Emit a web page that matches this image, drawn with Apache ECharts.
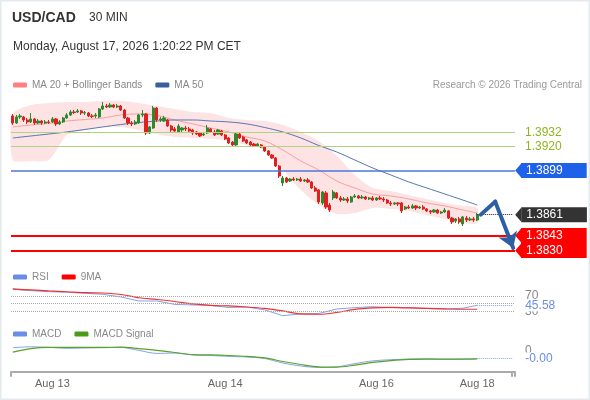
<!DOCTYPE html>
<head>
    <meta charset="utf-8">
    <title>USD/CAD 30 MIN</title>
    <style>
        html, body { margin: 0; padding: 0; background: #fff; }
        #chart { width: 590px; height: 400px; }
    </style>
</head>
<body>
    <div id="chart"></div>

    <script src="https://cdn.jsdelivr.net/npm/echarts@6/dist/echarts.min.js"></script>
    <script type="text/javascript">

// ---- data ----
var slots = 140;               // category slots on the time axis (candles + empty room on the right)
var tickIdx  = [11, 59, 101, 129];
var tickText = ['Aug 13', 'Aug 14', 'Aug 16', 'Aug 18'];

var opens = [1.39461,1.39400,1.39452,1.39452,1.39426,1.39409,1.39435,1.39400,1.39417,1.39400,
 1.39409,1.39409,1.39435,1.39392,1.39409,1.39443,1.39469,1.39495,1.39495,1.39504,
 1.39486,1.39486,1.39461,1.39461,1.39452,1.39521,1.39547,1.39538,1.39555,1.39538,
 1.39547,1.39512,1.39443,1.39400,1.39392,1.39400,1.39469,1.39478,1.39314,1.39357,
 1.39529,1.39426,1.39417,1.39426,1.39374,1.39349,1.39323,1.39340,1.39357,1.39349,
 1.39340,1.39323,1.39314,1.39297,1.39314,1.39349,1.39323,1.39305,1.39331,1.39297,
 1.39271,1.39236,1.39211,1.39305,1.39279,1.39254,1.39236,1.39219,1.39202,1.39211,
 1.39193,1.39159,1.39124,1.39098,1.39029,1.38883,1.38926,1.38900,1.38917,1.38909,
 1.38917,1.38900,1.38909,1.38891,1.38840,1.38823,1.38711,1.38797,1.38693,1.38754,
 1.38797,1.38754,1.38736,1.38745,1.38719,1.38762,1.38771,1.38754,1.38762,1.38745,
 1.38754,1.38736,1.38754,1.38745,1.38736,1.38711,1.38702,1.38711,1.38711,1.38659,
 1.38676,1.38667,1.38685,1.38667,1.38676,1.38659,1.38642,1.38633,1.38650,1.38624,
 1.38633,1.38642,1.38581,1.38555,1.38573,1.38530,1.38581,1.38564,1.38573,1.38564];

var closes = [1.39400,1.39452,1.39461,1.39426,1.39409,1.39435,1.39400,1.39417,1.39400,1.39409,
 1.39405,1.39435,1.39392,1.39409,1.39443,1.39469,1.39495,1.39490,1.39504,1.39486,
 1.39490,1.39461,1.39457,1.39469,1.39521,1.39547,1.39538,1.39555,1.39538,1.39547,
 1.39512,1.39443,1.39400,1.39392,1.39409,1.39469,1.39478,1.39314,1.39366,1.39529,
 1.39426,1.39435,1.39443,1.39374,1.39340,1.39331,1.39374,1.39357,1.39349,1.39331,
 1.39314,1.39305,1.39288,1.39305,1.39357,1.39323,1.39297,1.39340,1.39297,1.39262,
 1.39228,1.39211,1.39305,1.39271,1.39245,1.39228,1.39211,1.39202,1.39219,1.39193,
 1.39159,1.39124,1.39098,1.39029,1.38943,1.38926,1.38891,1.38917,1.38909,1.38917,
 1.38900,1.38909,1.38891,1.38840,1.38814,1.38719,1.38805,1.38676,1.38650,1.38805,
 1.38754,1.38736,1.38745,1.38728,1.38762,1.38771,1.38754,1.38762,1.38745,1.38754,
 1.38736,1.38754,1.38745,1.38736,1.38711,1.38702,1.38711,1.38702,1.38642,1.38676,
 1.38667,1.38685,1.38667,1.38676,1.38659,1.38642,1.38633,1.38650,1.38624,1.38633,
 1.38650,1.38581,1.38547,1.38573,1.38547,1.38590,1.38564,1.38573,1.38564,1.38610];

var lows = [1.39383,1.39392,1.39435,1.39409,1.39392,1.39400,1.39383,1.39392,1.39383,1.39392,
 1.39392,1.39400,1.39374,1.39383,1.39400,1.39435,1.39461,1.39478,1.39486,1.39469,
 1.39469,1.39452,1.39443,1.39443,1.39443,1.39512,1.39529,1.39529,1.39529,1.39529,
 1.39504,1.39435,1.39383,1.39374,1.39383,1.39392,1.39452,1.39297,1.39305,1.39349,
 1.39409,1.39409,1.39409,1.39366,1.39323,1.39323,1.39314,1.39323,1.39331,1.39323,
 1.39297,1.39297,1.39279,1.39288,1.39305,1.39314,1.39288,1.39297,1.39288,1.39254,
 1.39219,1.39202,1.39202,1.39262,1.39236,1.39219,1.39202,1.39193,1.39193,1.39185,
 1.39150,1.39116,1.39090,1.39021,1.38926,1.38857,1.38883,1.38891,1.38900,1.38900,
 1.38891,1.38891,1.38883,1.38831,1.38805,1.38702,1.38693,1.38659,1.38633,1.38736,
 1.38745,1.38719,1.38728,1.38711,1.38711,1.38754,1.38745,1.38745,1.38736,1.38736,
 1.38728,1.38728,1.38736,1.38719,1.38702,1.38685,1.38693,1.38685,1.38624,1.38650,
 1.38659,1.38659,1.38650,1.38659,1.38650,1.38633,1.38616,1.38624,1.38616,1.38616,
 1.38624,1.38573,1.38530,1.38538,1.38530,1.38512,1.38547,1.38555,1.38547,1.38555];

var highs = [1.39478,1.39469,1.39478,1.39461,1.39443,1.39486,1.39443,1.39435,1.39426,1.39426,
 1.39426,1.39452,1.39443,1.39426,1.39452,1.39486,1.39512,1.39512,1.39521,1.39512,
 1.39504,1.39495,1.39478,1.39486,1.39529,1.39581,1.39564,1.39573,1.39564,1.39564,
 1.39555,1.39521,1.39452,1.39417,1.39426,1.39478,1.39512,1.39486,1.39374,1.39547,
 1.39538,1.39452,1.39461,1.39435,1.39383,1.39366,1.39392,1.39366,1.39374,1.39366,
 1.39349,1.39331,1.39323,1.39314,1.39383,1.39357,1.39340,1.39349,1.39340,1.39305,
 1.39279,1.39245,1.39314,1.39314,1.39288,1.39262,1.39245,1.39228,1.39228,1.39219,
 1.39202,1.39167,1.39133,1.39107,1.39038,1.38943,1.38935,1.38926,1.38935,1.38926,
 1.38935,1.38917,1.38926,1.38900,1.38857,1.38831,1.38814,1.38814,1.38711,1.38823,
 1.38805,1.38771,1.38762,1.38762,1.38771,1.38788,1.38780,1.38780,1.38771,1.38762,
 1.38771,1.38762,1.38771,1.38762,1.38745,1.38728,1.38719,1.38719,1.38719,1.38685,
 1.38693,1.38702,1.38693,1.38685,1.38693,1.38667,1.38650,1.38659,1.38659,1.38642,
 1.38667,1.38650,1.38590,1.38581,1.38590,1.38599,1.38599,1.38590,1.38590,1.38624];

// indicator readings, taken every 5 candles
var indIdx  = [0,5,10,15,20,25,30,35,40,45,50,55,60,65,70,75,80,85,90,95,100,105,110,115,120,125,129];
var ma20    = [1.39366,1.39383,1.39396,1.39417,1.39430,1.39443,1.39469,1.39478,1.39465,1.39426,1.39392,1.39357,1.39323,1.39279,1.39245,1.39167,1.39073,1.38995,1.38900,1.38840,1.38788,1.38771,1.38745,1.38711,1.38685,1.38650,1.38624];
var ma50    = [1.39271,1.39288,1.39305,1.39323,1.39344,1.39366,1.39387,1.39404,1.39417,1.39426,1.39426,1.39417,1.39409,1.39392,1.39361,1.39323,1.39271,1.39206,1.39150,1.39081,1.39012,1.38952,1.38892,1.38840,1.38788,1.38736,1.38693];
var bbUpper = [1.39478,1.39555,1.39573,1.39581,1.39581,1.39590,1.39590,1.39573,1.39547,1.39521,1.39495,1.39486,1.39443,1.39426,1.39417,1.39383,1.39323,1.39245,1.39116,1.38952,1.38840,1.38814,1.38780,1.38745,1.38711,1.38685,1.38668];
var bbLower = [1.39081,1.39073,1.39081,1.39297,1.39340,1.39366,1.39366,1.39340,1.39305,1.39279,1.39271,1.39262,1.39245,1.39211,1.39167,1.38995,1.38823,1.38693,1.38616,1.38624,1.38668,1.38659,1.38642,1.38607,1.38573,1.38538,1.38538];

var rsi   = [87.5,83.9,81.2,79.7,77.1,74.4,67.4,56.9,56.9,47.8,46.5,45.2,39.9,41.2,33.4,18.5,22.9,24.2,36,39.4,42,39.4,39.4,37.3,36,37.8,45.58];
var rsiMa = [88.3,85.7,83.1,81,78.6,77.8,73.9,65.3,60.8,55.6,49.1,45.2,43.9,41.2,37.3,30.8,22.9,22.2,26.9,34.7,38.6,39.9,38.6,37.3,36,35.2,35.2];
var macd   = [0.00010,0.00013,0.00011,0.00008,0.00009,0.00010,0.00011,0.00001,-0.00009,-0.00008,-0.00014,-0.00016,-0.00019,-0.00021,-0.00026,-0.00041,-0.00051,-0.00056,-0.00054,-0.00043,-0.00034,-0.00030,-0.00028,-0.00027,-0.00029,-0.00028,-0.00026];
var signal = [-0.00005,0.00007,0.00011,0.00011,0.00011,0.00011,0.00012,0.00007,0.00001,-0.00006,-0.00013,-0.00014,-0.00016,-0.00019,-0.00024,-0.00036,-0.00046,-0.00054,-0.00055,-0.00048,-0.00039,-0.00033,-0.00029,-0.00028,-0.00028,-0.00028,-0.00027];

var resistances = [1.3932, 1.3920];
var pivot = 1.3899;
var supports = [1.3843, 1.3830];
var lastPrice = 1.3861;
var lastRsi = 45.58;
var lastMacd = -0.00026;
// forecast arrow: start, peak, target
var arrowIdx   = [130, 134, 139];
var arrowPrice = [1.3861, 1.38722, 1.38323];

// ---- build ----
var categories = [];
for (var i = 0; i < slots; i++) categories.push(String(i));

var candles = opens.map(function (o, i) { return [o, closes[i], lows[i], highs[i]]; });
function pairs(vals) { return indIdx.map(function (x, k) { return [x, vals[k]]; }); }
var lastI = opens.length - 1;
var endI = slots - 1;

var FONT = 'Arial, "Liberation Sans", sans-serif';

function tag(bg, dist) {
    return {
        show: true, position: 'end', distance: dist,
        color: '#fff', backgroundColor: bg, fontSize: 12, fontFamily: FONT,
        padding: [2, 24, 1, 5], lineHeight: 12
    };
}
function notch(idx, val, color) {
    return { coord: [idx, val], symbol: 'triangle', symbolRotate: 90,
             symbolSize: [14, 6], symbolOffset: [5, 0], itemStyle: { color: color } };
}

var myChart = echarts.init(document.getElementById('chart'), null, { renderer: 'canvas' });

var hiddenX = function (g) {
    return { type: 'category', gridIndex: g, data: categories, boundaryGap: true, show: false };
};
var legendText = { color: '#888', fontSize: 10, fontFamily: FONT };

var option = {
    animation: false,
    backgroundColor: '#fff',
    textStyle: { fontFamily: FONT },
    graphic: [{
        type: 'rect', silent: true,
        shape: { x: 0.5, y: 0.5, width: 589, height: 399 },
        style: { fill: 'none', stroke: '#e4e9ee', lineWidth: 2 }
    }],
    title: [
        { text: 'USD/CAD', left: 12, top: 11, padding: 0, textStyle: { fontSize: 14, fontWeight: 'bold', color: '#333', fontFamily: FONT } },
        { text: '30 MIN', left: 89, top: 12, padding: 0, textStyle: { fontSize: 12, fontWeight: 'normal', color: '#333', fontFamily: FONT } },
        { text: 'Monday, August 17, 2026 1:20:22 PM CET', left: 13, top: 41, padding: 0, textStyle: { fontSize: 12, fontWeight: 'normal', color: '#333', fontFamily: FONT } },
        { text: 'Research \u00a9 2026 Trading Central', right: 8, top: 80, padding: 0, textStyle: { fontSize: 10, fontWeight: 'normal', color: '#999', fontFamily: FONT } }
    ],
    legend: [
        { top: 80, left: 13, padding: 0, itemWidth: 14, itemHeight: 5, itemGap: 13, selectedMode: false, icon: 'roundRect',
          textStyle: legendText,
          data: [{ name: 'MA 20 + Bollinger Bands', itemStyle: { color: '#ff8080' } },
                 { name: 'MA 50', itemStyle: { color: '#3a5e9e' } }] },
        { top: 272, left: 13, padding: 0, itemWidth: 14, itemHeight: 5, itemGap: 13, selectedMode: false, icon: 'roundRect',
          textStyle: legendText,
          data: [{ name: 'RSI', itemStyle: { color: '#6a8ee6' } },
                 { name: '9MA', itemStyle: { color: '#ff0000' } }] },
        { top: 329, left: 13, padding: 0, itemWidth: 14, itemHeight: 5, itemGap: 13, selectedMode: false, icon: 'roundRect',
          textStyle: legendText,
          data: [{ name: 'MACD', itemStyle: { color: '#6a8ee6' } },
                 { name: 'MACD Signal', itemStyle: { color: '#4c9a1c' } }] }
    ],
    grid: [
        { left: 11, width: 504, top: 99.8, height: 162.4 },
        { left: 11, width: 504, top: 284.5, height: 34.4 },
        { left: 11, width: 504, top: 341.7, height: 30 }
    ],
    xAxis: [
        hiddenX(0),
        hiddenX(1),
        {
            type: 'category', gridIndex: 2, data: categories, boundaryGap: true,
            axisLine: { show: true, onZero: false, lineStyle: { color: '#aaa', width: 2 } },
            axisTick: { show: true, length: 5, lineStyle: { color: '#aaa', width: 2 },
                        interval: function (idx) { return idx === 0 || idx === endI; } },
            axisLabel: {
                color: '#666', fontSize: 11, margin: 7,
                interval: function (idx) { return tickIdx.indexOf(idx) >= 0; },
                formatter: function (v, idx) { var k = tickIdx.indexOf(idx); return k >= 0 ? tickText[k] : ''; }
            }
        }
    ],
    yAxis: [
        { type: 'value', gridIndex: 0, min: 1.382, max: 1.396, show: false, scale: true },
        { type: 'value', gridIndex: 1, min: 10, max: 100, show: false },
        { type: 'value', gridIndex: 2, min: -0.0007, max: 0.0003, show: false }
    ],
    series: [
        {
            // bollinger band fill
            type: 'custom', xAxisIndex: 0, yAxisIndex: 0, silent: true, z: 1,
            data: [[0, bbUpper[0]]],
            renderItem: function (params, api) {
                var pts = [];
                for (var k = 0; k < indIdx.length; k++) pts.push(api.coord([indIdx[k], bbUpper[k]]));
                for (var k = indIdx.length - 1; k >= 0; k--) pts.push(api.coord([indIdx[k], bbLower[k]]));
                return { type: 'polygon', shape: { points: pts, smooth: 0.25 }, style: { fill: '#fde3e3' } };
            }
        },
        {
            name: 'MA 20 + Bollinger Bands', type: 'line', xAxisIndex: 0, yAxisIndex: 0, z: 2,
            data: pairs(ma20), smooth: 0.4, showSymbol: false,
            lineStyle: { color: '#f7a0a0', width: 1 }, itemStyle: { color: '#ff8080' }
        },
        {
            name: 'MA 50', type: 'line', xAxisIndex: 0, yAxisIndex: 0, z: 2,
            data: pairs(ma50), smooth: 0.4, showSymbol: false,
            lineStyle: { color: '#5577b5', width: 1 }, itemStyle: { color: '#3a5e9e' }
        },
        {
            name: 'USD/CAD', type: 'candlestick', xAxisIndex: 0, yAxisIndex: 0, z: 3,
            data: candles, barWidth: 2.6,
            itemStyle: { color: '#2c8a2c', color0: '#e0201e', borderColor: '#2c8a2c', borderColor0: '#e0201e', borderWidth: 1 },
            markLine: {
                silent: true, symbol: ['none', 'none'], precision: 5,
                data: [
                    { yAxis: resistances[0], lineStyle: { color: '#add47f', width: 1, type: 'solid' },
                      label: { position: 'end', distance: 10, formatter: '1.3932', color: '#8db51f', fontSize: 12 } },
                    { yAxis: resistances[1], lineStyle: { color: '#add47f', width: 1, type: 'solid' },
                      label: { position: 'end', distance: 10, formatter: '1.3920', color: '#8db51f', fontSize: 12 } },
                    { yAxis: pivot, lineStyle: { color: '#4a78d8', width: 1.5, type: 'solid' },
                      label: Object.assign(tag('#1e62ea', 6), { formatter: '1.3899' }) },
                    { yAxis: supports[0], lineStyle: { color: '#ff0000', width: 2, type: 'solid' },
                      label: Object.assign(tag('#ff0000', 6), { formatter: '1.3843' }) },
                    { yAxis: supports[1], lineStyle: { color: '#ff0000', width: 2, type: 'solid' },
                      label: Object.assign(tag('#ff0000', 6), { formatter: '1.3830' }) },
                    [
                        { coord: [lastI, lastPrice], lineStyle: { color: '#222', width: 1, type: 'dotted' },
                          label: Object.assign(tag('#333333', 8), { formatter: '1.3861' }) },
                        { coord: [endI, lastPrice] }
                    ]
                ]
            },
            markPoint: {
                silent: true, label: { show: false },
                data: [
                    notch(endI, pivot, '#1e62ea'),
                    notch(endI, lastPrice, '#333333'),
                    notch(endI, supports[0], '#ff0000'),
                    notch(endI, supports[1], '#ff0000')
                ]
            }
        },
        {
            type: 'lines', coordinateSystem: 'cartesian2d', xAxisIndex: 0, yAxisIndex: 0, z: 5,
            silent: true, symbol: ['none', 'none'],
            lineStyle: { color: '#2f5fa3', width: 4, opacity: 1, cap: 'round' },
            data: [{ coords: [[arrowIdx[0], arrowPrice[0]], [arrowIdx[1], arrowPrice[1]]] }]
        },
        {
            type: 'lines', coordinateSystem: 'cartesian2d', xAxisIndex: 0, yAxisIndex: 0, z: 5,
            silent: true, symbol: ['none', 'arrow'], symbolSize: 15,
            lineStyle: { color: '#2f5fa3', width: 4, opacity: 1, cap: 'round' },
            data: [{ coords: [[arrowIdx[1], arrowPrice[1]], [arrowIdx[2], arrowPrice[2]]] }]
        },
        {
            name: 'RSI', type: 'line', xAxisIndex: 1, yAxisIndex: 1, z: 3,
            data: pairs(rsi), showSymbol: false,
            lineStyle: { color: '#86a2ea', width: 1 }, itemStyle: { color: '#6a8ee6' },
            markLine: {
                silent: true, symbol: ['none', 'none'], precision: 2,
                lineStyle: { color: '#aaa', type: 'dotted', width: 1 },
                data: [
                    { yAxis: 70, label: { position: 'end', distance: 10, formatter: '70', color: '#888', fontSize: 12 } },
                    { yAxis: 50, label: { show: false } },
                    { yAxis: 30, label: { position: 'end', distance: 10, formatter: '30', color: '#888', fontSize: 12 } },
                    [
                        { coord: [lastI, lastRsi], lineStyle: { color: '#8aa5e8', type: 'dotted' },
                          label: { position: 'end', distance: 12, formatter: '45.58', color: '#6a8ee6', fontSize: 12,
                                   backgroundColor: '#fff', padding: [0, 2, 0, 0] } },
                        { coord: [endI, lastRsi] }
                    ]
                ]
            }
        },
        {
            name: '9MA', type: 'line', xAxisIndex: 1, yAxisIndex: 1, z: 3,
            data: pairs(rsiMa), smooth: 0.3, showSymbol: false,
            lineStyle: { color: '#f03030', width: 1.2 }, itemStyle: { color: '#ff0000' }
        },
        {
            name: 'MACD', type: 'line', xAxisIndex: 2, yAxisIndex: 2, z: 3,
            data: pairs(macd), smooth: 0.3, showSymbol: false,
            lineStyle: { color: '#86a2ea', width: 1 }, itemStyle: { color: '#6a8ee6' },
            markLine: {
                silent: true, symbol: ['none', 'none'], precision: 6,
                data: [
                    { yAxis: 0, lineStyle: { color: 'rgba(0,0,0,0)', width: 1 },
                      label: { position: 'end', distance: 10, formatter: '0', color: '#888', fontSize: 12 } },
                    [
                        { coord: [lastI, lastMacd], lineStyle: { color: '#8aa5e8', type: 'dotted', width: 1 },
                          label: { position: 'end', distance: 12, formatter: '-0.00', color: '#6a8ee6', fontSize: 12,
                                   backgroundColor: '#fff', padding: [0, 2, 0, 0] } },
                        { coord: [endI, lastMacd] }
                    ]
                ]
            }
        },
        {
            name: 'MACD Signal', type: 'line', xAxisIndex: 2, yAxisIndex: 2, z: 3,
            data: pairs(signal), smooth: 0.3, showSymbol: false,
            lineStyle: { color: '#58a22a', width: 1.2 }, itemStyle: { color: '#4c9a1c' }
        }
    ]
};

myChart.setOption(option);

window.onresize = function () { myChart.resize(); };
    </script>
</body>
